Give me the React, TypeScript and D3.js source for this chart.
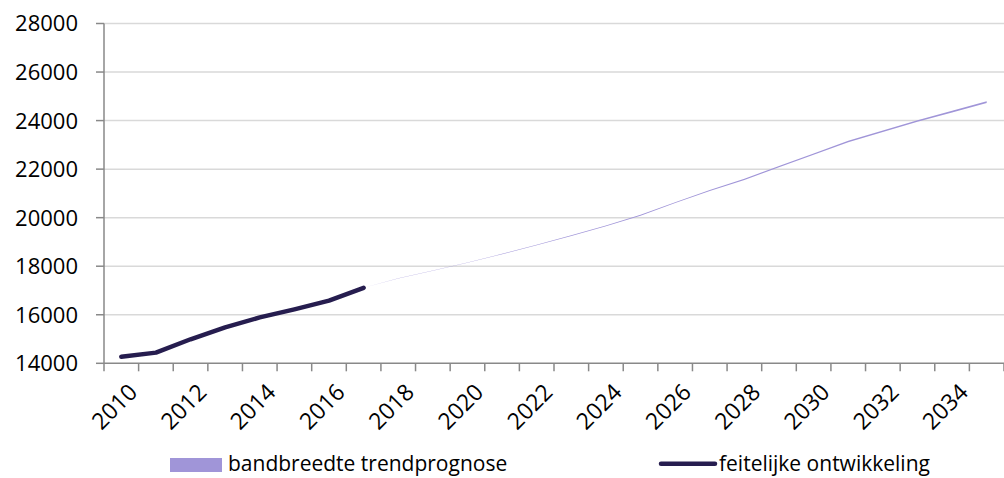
import React from "react";
import * as d3 from "d3";

const years: number[] = [2010,2011,2012,2013,2014,2015,2016,2017,2018,2019,2020,2021,2022,2023,2024,2025,2026,2027,2028,2029,2030,2031,2032,2033,2034,2035];
const xTickLabels: string[] = ["2010","2012","2014","2016","2018","2020","2022","2024","2026","2028","2030","2032","2034"];
const yTicks: number[] = [14000,16000,18000,20000,22000,24000,26000,28000];

const actualYears: number[] = [2010,2011,2012,2013,2014,2015,2016,2017];
const actualValues: number[] = [14270,14440,14990,15480,15890,16220,16580,17110];

const bandYears: number[] = [2017,2018,2019,2020,2021,2022,2023,2024,2025,2026,2027,2028,2029,2030,2031,2032,2033,2034,2035];
const bandLow: number[] = [17110,17497,17815,18143,18491,18859,19247,19645,20083,20601,21099,21557,22075,22593,23111,23529,23947,24335,24723];
const bandHigh: number[] = [17110,17503,17825,18157,18509,18881,19273,19675,20117,20639,21141,21603,22125,22647,23169,23591,24013,24405,24797];

const seriesNames: string[] = ["bandbreedte trendprognose", "feitelijke ontwikkeling"];

const W = 1004, H = 478;
const left = 104, right = 1004, top = 23.5, bottom = 363.3;
const FONT = "'Open Sans', sans-serif";
const BAND_COLOR = "#a095d8";
const LINE_COLOR = "#261d4f";

export default function App() {
  const x = d3.scaleBand<number>().domain(years).range([left, right]).padding(0);
  const cx = (yr: number) => (x(yr) as number) + x.bandwidth() / 2;
  const y = d3.scaleLinear().domain([14000, 28000]).range([bottom, top]);

  const area = d3.area<number>()
    .x((_, i) => cx(bandYears[i]))
    .y0((_, i) => y(bandLow[i]))
    .y1((_, i) => y(bandHigh[i]));
  const line = d3.line<number>()
    .x((_, i) => cx(actualYears[i]))
    .y((d) => y(d))
    .curve(d3.curveLinear);

  const legY = 463;
  return (
    <svg width={W} height={H} style={{ position: "absolute", left: 0, top: 0, background: "#fff" }} fontFamily={FONT}>
      {yTicks.map((t) => (
        <g key={t}>
          {t !== 14000 && (
            <line x1={left} x2={right} y1={y(t)} y2={y(t)} stroke="#d9d9d9" strokeWidth={1.5} />
          )}
          <line x1={left - 8} x2={left} y1={y(t)} y2={y(t)} stroke="#898989" strokeWidth={1.5} />
          <text x={78} y={y(t)} dy="0.36em" textAnchor="end" fontSize={22} fill="#000">{t}</text>
        </g>
      ))}
      <line x1={left} x2={left} y1={top} y2={bottom} stroke="#898989" strokeWidth={1.5} />
      <line x1={left} x2={right} y1={bottom} y2={bottom} stroke="#898989" strokeWidth={1.5} />
      {years.map((yr) => (
        <line key={yr} x1={(x(yr) as number) + x.bandwidth()} x2={(x(yr) as number) + x.bandwidth()} y1={bottom} y2={bottom + 8} stroke="#898989" strokeWidth={1.5} />
      ))}
      <line x1={left} x2={left} y1={bottom} y2={bottom + 8} stroke="#898989" strokeWidth={1.5} />
      {xTickLabels.map((lab) => {
        const c = cx(+lab);
        return (
          <text key={lab} transform={`translate(${c + 6},${bottom + 19}) rotate(-45)`} textAnchor="end" dy="0.7em" fontSize={23} fill="#000">{lab}</text>
        );
      })}
      <path d={area(bandLow) as string} fill={BAND_COLOR} stroke="none" />
      <path d={line(actualValues) as string} fill="none" stroke={LINE_COLOR} strokeWidth={4.5} strokeLinejoin="round" strokeLinecap="round" />
      <rect x={170} y={legY - 5} width={52} height={14} fill={BAND_COLOR} />
      <text x={228} y={legY + 8} fontSize={21} fill="#000">{seriesNames[0]}</text>
      <line x1={661} x2={715} y1={legY + 0.7} y2={legY + 0.7} stroke={LINE_COLOR} strokeWidth={4.5} strokeLinecap="round" />
      <text x={719} y={legY + 8} fontSize={21} fill="#000">{seriesNames[1]}</text>
    </svg>
  );
}
